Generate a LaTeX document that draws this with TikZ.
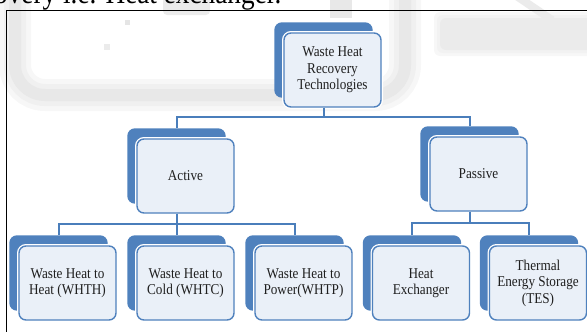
\documentclass[tikz,border=0pt]{standalone}
\usepackage{fontspec}
\setmainfont{Liberation Serif}
\newfontfamily\boxfont[FakeStretch=0.88]{Liberation Serif}
\usetikzlibrary{shadows}
\definecolor{boxblue}{HTML}{4F81BD}
\definecolor{boxfill}{HTML}{EAF0F8}
\definecolor{linkblue}{HTML}{4A7EBB}
\tikzset{
  box/.style={draw=boxblue, line width=1.4pt, fill=boxfill, rounded corners=7pt,
    minimum width=97pt, minimum height=74pt, inner sep=2pt, align=center,
    font=\boxfont\fontsize{15}{16.5}\selectfont, text=black!88,
    copy shadow={fill=boxblue, draw=boxblue, shadow xshift=-9pt, shadow yshift=10pt},
    preaction={draw=white, line width=4pt}},
  link/.style={draw=linkblue, line width=2pt},
  haze/.style={line width=#1, line cap=round, rounded corners=30pt}
}
\begin{document}
\begin{tikzpicture}[x=1pt, y=-1pt]
  \useasboundingbox (0,0) rectangle (587,332);
  % faded marks behind the frame
  \foreach \w/\c in {32/3, 22/6, 12/9}
    \draw[black!\c, haze=\w pt] (15,-20) -- (15,95) -- (405,95) -- (405,-20);
  \fill[black!8, rounded corners=4pt] (163,-5) rectangle (210,15);
  \fill[black!9] (330,-5) rectangle (352,18);
  \foreach \d/\c in {6/3, 3/5, 0/8}
    \fill[black!\c, rounded corners=6pt] (440-\d,18-\d) rectangle (600,50+\d);
  \draw[black!8, line width=8pt] (515,-5) -- (552,20);
  \fill[black!10] (125,20) rectangle (130,25);
  \fill[black!8] (104,44) rectangle (110,50);
  \node[font=\boxfont\fontsize{31}{33}\selectfont, anchor=base west, inner sep=0pt] (prev) at (-6,3) {overy i.e. Heat exchanger.};
  \draw[line width=1.3pt] (6.5,340) -- (6.5,10.5) -- (600,10.5);

  \node[box] (whrt) at (332.5,70) {Waste Heat\\Recovery\\Technologies};
  \node[box] (act) at (185.5,176) {Active};
  \node[box] (pas) at (478.5,174) {Passive};
  \node[box] (whth) at (67.5,283) {Waste Heat to\\Heat (WHTH)};
  \node[box] (whtc) at (185.5,283) {Waste Heat to\\Cold (WHTC)};
  \node[box] (whtp) at (303.5,283) {Waste Heat to\\Power(WHTP)};
  \node[box] (hx) at (421,283) {Heat\\Exchanger};
  \node[box] (tes) at (538,283) {Thermal\\Energy Storage\\(TES)};

  \draw[link] ([xshift=-9pt]whrt.south) -- ++(0,-9pt) -| ([shift={(-9pt,10pt)}]act.north);
  \draw[link] ([xshift=-9pt]whrt.south) ++(0,-9pt) -| ([shift={(-9pt,10pt)}]pas.north);

  \draw[link] ([xshift=-9pt]act.south) -- ++(0,-10pt) -| ([shift={(-9pt,10pt)}]whth.north);
  \draw[link] ([xshift=-9pt]act.south) -- ([shift={(-9pt,10pt)}]whtc.north);
  \draw[link] ([xshift=-9pt]act.south) ++(0,-10pt) -| ([shift={(-9pt,10pt)}]whtp.north);

  \draw[link] ([xshift=-9pt]pas.south) -- ++(0,-11pt) -| ([shift={(-9pt,10pt)}]hx.north);
  \draw[link] ([xshift=-9pt]pas.south) ++(0,-11pt) -| ([shift={(-9pt,10pt)}]tes.north);
\end{tikzpicture}
\end{document}
